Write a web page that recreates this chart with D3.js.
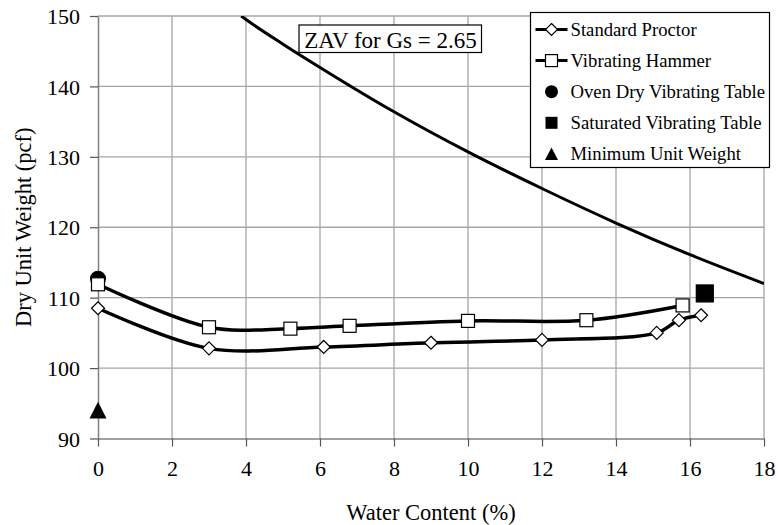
<!DOCTYPE html>
<html>
<head>
<meta charset="utf-8">
<script src="https://cdn.jsdelivr.net/npm/d3@7"></script>
<style>
  html, body { margin: 0; padding: 0; background: #fff; }
  svg { display: block; }
  svg text { font-family: "Liberation Serif", "Times New Roman", Tinos, "DejaVu Serif", serif; }
</style>
</head>
<body>
<svg id="chart" width="778" height="525"></svg>
<script>
// ---- data ----
const xTicks = [0, 2, 4, 6, 8, 10, 12, 14, 16, 18];
const yTicks = [90, 100, 110, 120, 130, 140, 150];

const proctorW = [0, 3, 6.1, 9, 12, 15.1, 15.7, 16.3];
const proctorD = [108.5, 102.8, 103.0, 103.6, 104.0, 105.0, 106.8, 107.5];

const hammerW = [0, 3, 5.2, 6.8, 10, 13.2, 15.8];
const hammerD = [111.9, 105.8, 105.6, 106.0, 106.7, 106.8, 108.9];

const ovenDryW = [0];
const ovenDryD = [112.7];

const saturatedW = [16.4];
const saturatedD = [110.6];

const minimumW = [0];
const minimumD = [94.0];

const zavW = [3.87, 4, 5, 6, 8, 10, 12, 14, 16, 18];
const zavD = [150, 149.5, 146.0, 142.7, 136.4, 130.7, 125.5, 120.6, 116.1, 112.0];

const legendLabels = ["Standard Proctor", "Vibrating Hammer", "Oven Dry Vibrating Table",
                      "Saturated Vibrating Table", "Minimum Unit Weight"];
const zavLabel = "ZAV for Gs = 2.65";
const xTitle = "Water Content (%)";
const yTitle = "Dry Unit Weight (pcf)";

// ---- layout ----
const svg = d3.select("#chart");
const m = { left: 98, top: 16, right: 14, bottom: 86.5 };
const W = 778, H = 525;
const x = d3.scaleLinear().domain([0, 18]).range([m.left, W - m.right]);
const y = d3.scaleLinear().domain([90, 150]).range([H - m.bottom, m.top]);

const zip = (a, b) => a.map((v, i) => [v, b[i]]);

// gridlines
const g = svg.append("g");
g.selectAll("line.h").data(yTicks.filter(d => d > 90)).join("line")
  .attr("x1", x(0)).attr("x2", x(18))
  .attr("y1", d => y(d)).attr("y2", d => y(d))
  .attr("stroke", "#a6a6a6").attr("stroke-width", 1.3);
g.selectAll("line.v").data(xTicks.filter(d => d > 0)).join("line")
  .attr("y1", y(90)).attr("y2", y(150))
  .attr("x1", d => x(d)).attr("x2", d => x(d))
  .attr("stroke", "#a6a6a6").attr("stroke-width", 1.3);

// axes
const xAxis = svg.append("g").attr("transform", `translate(0,${y(90)})`)
  .call(d3.axisBottom(x).tickValues(xTicks).tickSize(8).tickPadding(14).tickSizeOuter(0));
const yAxis = svg.append("g").attr("transform", `translate(${x(0)},0)`)
  .call(d3.axisLeft(y).tickValues(yTicks).tickSize(8).tickPadding(10).tickSizeOuter(0));
[xAxis, yAxis].forEach(a => {
  a.attr("font-family", null);
  a.select(".domain").attr("stroke", "#808080").attr("stroke-width", 1.5);
  a.selectAll(".tick line").attr("stroke", "#555").attr("stroke-width", 1.2);
  a.selectAll("text").attr("font-size", 22).attr("fill", "#000");
});
yAxis.selectAll("text").attr("dy", "0.35em");

// titles
svg.append("text").attr("x", (x(0) + x(18)) / 2).attr("y", 520)
  .attr("text-anchor", "middle").attr("font-size", 22.5).text(xTitle);
svg.append("text").attr("transform", `translate(31,${(y(90) + y(150)) / 2}) rotate(-90)`)
  .attr("text-anchor", "middle").attr("font-size", 22.5).text(yTitle);

// clip
svg.append("clipPath").attr("id", "clip").append("rect")
  .attr("x", x(0)).attr("y", y(150)).attr("width", x(18) - x(0)).attr("height", y(90) - y(150));

const line = d3.line().x(d => x(d[0])).y(d => y(d[1])).curve(d3.curveCatmullRom.alpha(0.5));

// ZAV
svg.append("path").datum(zip(zavW, zavD)).attr("clip-path", "url(#clip)")
  .attr("d", d3.line().x(d => x(d[0])).y(d => y(d[1])).curve(d3.curveMonotoneX))
  .attr("fill", "none").attr("stroke", "#000").attr("stroke-width", 3);

// series lines
svg.append("path").datum(zip(hammerW, hammerD)).attr("d", line)
  .attr("fill", "none").attr("stroke", "#000").attr("stroke-width", 3.5);
svg.append("path").datum(zip(proctorW, proctorD)).attr("d", line)
  .attr("fill", "none").attr("stroke", "#000").attr("stroke-width", 3.5);

// markers
const diamond = (sel, cx, cy, s) => sel.append("path")
  .attr("d", `M${cx},${cy - s}L${cx + s},${cy}L${cx},${cy + s}L${cx - s},${cy}Z`)
  .attr("fill", "#fff").attr("stroke", "#000").attr("stroke-width", 1.2);
const square = (sel, cx, cy, s, fill) => sel.append("rect")
  .attr("x", cx - s).attr("y", cy - s).attr("width", 2 * s).attr("height", 2 * s)
  .attr("fill", fill).attr("stroke", "#000").attr("stroke-width", 1.2);
const circle = (sel, cx, cy, r) => sel.append("circle").attr("cx", cx).attr("cy", cy).attr("r", r).attr("fill", "#000");
const tri = (sel, cx, cy, s) => sel.append("path")
  .attr("d", `M${cx},${cy - s}L${cx + s},${cy + s * 0.95}L${cx - s},${cy + s * 0.95}Z`).attr("fill", "#000");

const mk = svg.append("g");
zip(ovenDryW, ovenDryD).forEach(d => circle(mk, x(d[0]), y(d[1]), 8));
zip(hammerW, hammerD).forEach(d => square(mk, x(d[0]), y(d[1]), 6.5, "#fff"));
zip(proctorW, proctorD).forEach(d => diamond(mk, x(d[0]), y(d[1]), 6.5));
zip(saturatedW, saturatedD).forEach(d => square(mk, x(d[0]), y(d[1]), 8.5, "#000"));
zip(minimumW, minimumD).forEach(d => tri(mk, x(d[0]), y(d[1]), 8.5));

// ZAV label box
const zb = svg.append("g");
zb.append("rect").attr("x", 299).attr("y", 25).attr("width", 182.5).attr("height", 27.5)
  .attr("fill", "#fff").attr("stroke", "#000").attr("stroke-width", 1.2);
zb.append("text").attr("x", 390.5).attr("y", 47.5).attr("text-anchor", "middle")
  .attr("font-size", 23).text(zavLabel);

// legend
const lg = svg.append("g");
lg.append("rect").attr("x", 530.5).attr("y", 12.5).attr("width", 239).attr("height", 155)
  .attr("fill", "#fff").attr("stroke", "#000").attr("stroke-width", 1.2);
const rowY = i => 29.5 + i * 31.1;
const mx = 551.5;
legendLabels.forEach((t, i) => {
  const cy = rowY(i);
  if (i < 2) {
    lg.append("line").attr("x1", 535.5).attr("x2", 567.5).attr("y1", cy).attr("y2", cy)
      .attr("stroke", "#000").attr("stroke-width", 3);
  }
  if (i === 0) diamond(lg, mx, cy, 6);
  if (i === 1) square(lg, mx, cy, 6, "#fff");
  if (i === 2) circle(lg, mx, cy, 6.5);
  if (i === 3) lg.append("rect").attr("x", mx - 6).attr("y", cy - 6).attr("width", 12).attr("height", 12).attr("fill", "#000");
  if (i === 4) tri(lg, mx, cy, 6.5);
  lg.append("text").attr("x", 570.5).attr("y", cy).attr("dy", "0.35em")
    .attr("font-size", 18.7).text(t);
});
</script>
</body>
</html>
